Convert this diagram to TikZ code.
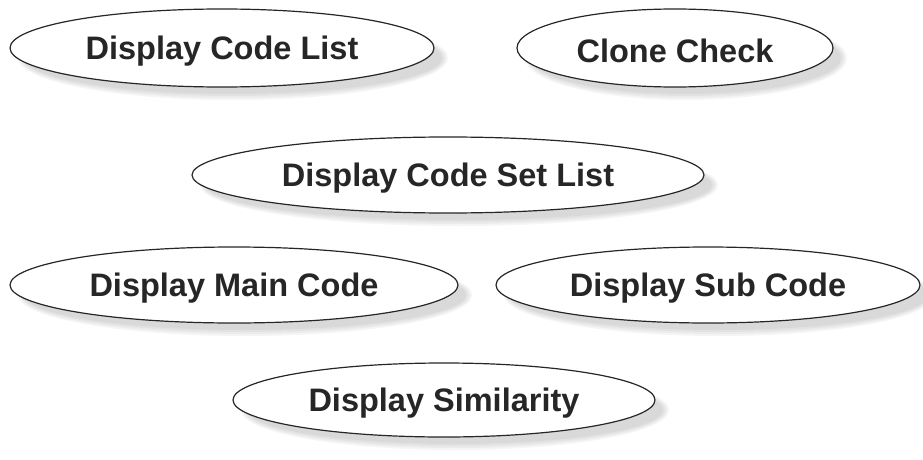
\documentclass[tikz,border=0pt]{standalone}
\usepackage{fontspec}
\setmainfont{Liberation Sans}
\usetikzlibrary{shapes.geometric}
\tikzset{
  usecase/.style={ellipse, draw=black!85, line width=1.2pt, fill=white, inner sep=0pt,
    font=\fontsize{32.5}{38}\selectfont\bfseries, text=black!85},
  shadowlayer/.style={fill=black, opacity=0.04, draw=none}
}
\newcommand{\uctext}[1]{\raisebox{-3pt}[\height][\depth]{#1}}
\newcommand{\ucshadow}[4]{%
  \foreach \g in {0,2,4,6} {
    \fill[shadowlayer] (#1+11,#2+10) ellipse ({#3+\g-3} and {#4+\g-3});
  }
}
\begin{document}
\begin{tikzpicture}[x=1pt,y=-1pt]
\useasboundingbox (0,0) rectangle (923,460);
% shadows
\ucshadow{222}{48}{212}{39}
\ucshadow{675}{48}{158}{39}
\ucshadow{448}{175}{256}{38}
\ucshadow{234}{285}{224}{38}
\ucshadow{708}{285}{212}{38}
\ucshadow{444}{400}{211}{37}
% use cases
\node[usecase, minimum width=424pt, minimum height=78pt] (dcl) at (222,48) {\uctext{Display Code List}};
\node[usecase, minimum width=316pt, minimum height=78pt] (cc) at (675,48) {\uctext{Clone Check}};
\node[usecase, minimum width=512pt, minimum height=76pt] (dcsl) at (448,175) {\uctext{Display Code Set List}};
\node[usecase, minimum width=448pt, minimum height=76pt] (dmc) at (234,285) {\uctext{Display Main Code}};
\node[usecase, minimum width=424pt, minimum height=76pt] (dsc) at (708,285) {\uctext{Display Sub Code}};
\node[usecase, minimum width=422pt, minimum height=74pt] (ds) at (444,400) {\uctext{Display Similarity}};
\end{tikzpicture}
\end{document}
